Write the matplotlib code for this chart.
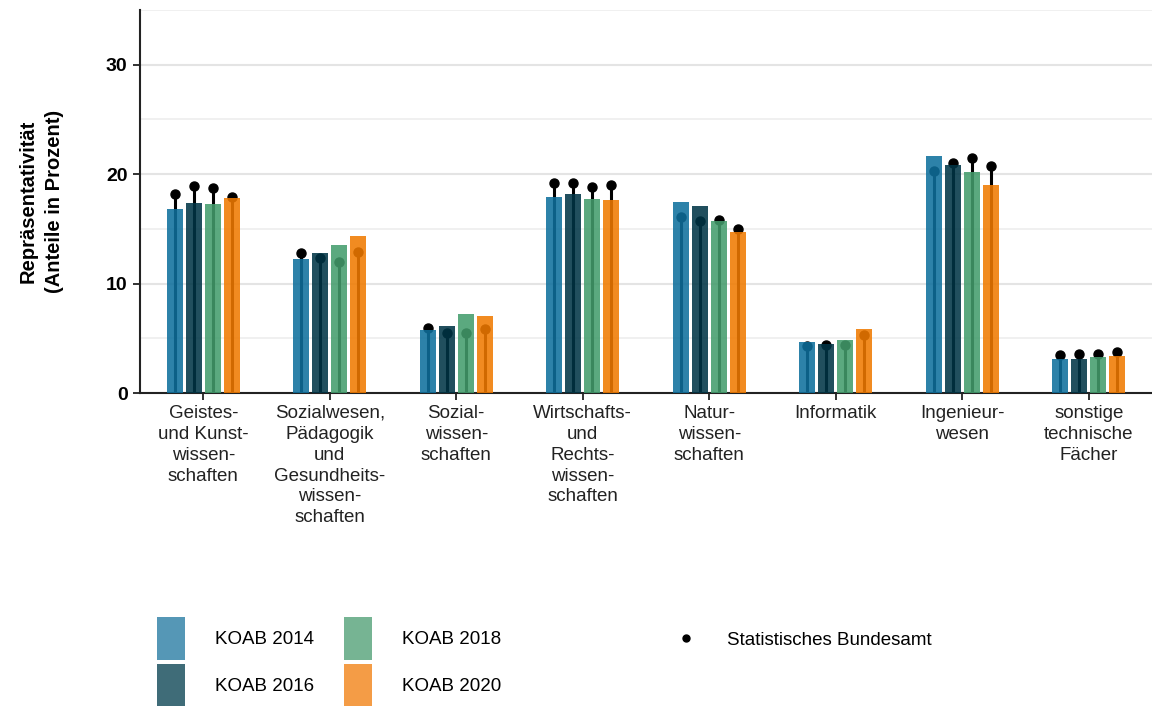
import numpy as np
import matplotlib
matplotlib.use('Agg')
import matplotlib.pyplot as plt
from matplotlib.patches import Patch
from matplotlib.lines import Line2D

plt.rcParams['font.family'] = ['Liberation Sans', 'DejaVu Sans']

categories = ['Geistes-\nund Kunst-\nwissen-\nschaften',
              'Sozialwesen,\nPädagogik\nund\nGesundheits-\nwissen-\nschaften',
              'Sozial-\nwissen-\nschaften',
              'Wirtschafts-\nund\nRechts-\nwissen-\nschaften',
              'Natur-\nwissen-\nschaften',
              'Informatik',
              'Ingenieur-\nwesen',
              'sonstige\ntechnische\nFächer']
series = ['KOAB 2014', 'KOAB 2016', 'KOAB 2018', 'KOAB 2020']

# KOAB shares per subject group
koab_2014 = [16.8, 12.2, 5.8, 17.9, 17.5, 4.7, 21.7, 3.1]
koab_2016 = [17.35, 12.75, 6.1, 18.15, 17.05, 4.45, 20.8, 3.1]
koab_2018 = [17.3, 13.5, 7.2, 17.7, 15.7, 4.8, 20.2, 3.3]
koab_2020 = [17.8, 14.35, 7.05, 17.6, 14.7, 5.85, 19.05, 3.4]

# Statistisches Bundesamt reference values
destatis_2014 = [18.2, 12.8, 5.9, 19.2, 16.1, 4.25, 20.25, 3.5]
destatis_2016 = [18.9, 12.3, 5.45, 19.2, 15.7, 4.35, 21.0, 3.55]
destatis_2018 = [18.75, 11.95, 5.45, 18.8, 15.85, 4.4, 21.5, 3.6]
destatis_2020 = [17.9, 12.9, 5.85, 19.05, 15.0, 5.3, 20.7, 3.75]

koab = [koab_2014, koab_2016, koab_2018, koab_2020]
destatis = [destatis_2014, destatis_2016, destatis_2018, destatis_2020]

bar_colors = ['#0e6f9c', '#003546', '#439c6c', '#f07a00']
legend_colors = ['#5597b6', '#3f6c78', '#76b493', '#f49c46']

fig = plt.figure(figsize=(11.52, 7.06), dpi=100)
ax = fig.add_axes([140/1152, 1 - 393/706, 1 - 140/1152, (393 - 10)/706])

x = np.arange(1, len(categories) + 1)
step = 0.15
width = 0.127
for i in range(4):
    xs = x + (i - 1.5) * step
    ax.bar(xs, koab[i], width=width, color=bar_colors[i], alpha=0.87, zorder=3)
    ax.vlines(xs, 0, destatis[i], color='black', lw=2.2, zorder=2)
    ax.plot(xs, destatis[i], 'o', color='black', ms=6.5, zorder=2)

ax.set_xlim(0.5, 8.5)
ax.set_ylim(0, 35)
ax.set_yticks([0, 10, 20, 30])
ax.set_yticks([5, 15, 25, 35], minor=True)
ax.set_xticks(x)
ax.set_xticklabels(categories, fontsize=13.5, linespacing=1.3, color='#222222')
ax.tick_params(axis='y', which='minor', length=0)
ax.tick_params(axis='both', which='major', length=5, width=1.3, color='#222222')
ax.tick_params(axis='y', pad=4)
for lab in ax.get_yticklabels():
    lab.set_fontweight('bold')
    lab.set_fontsize(14)
ax.grid(axis='y', which='major', color='#e4e4e4', lw=1.5, zorder=0)
ax.grid(axis='y', which='minor', color='#eeeeee', lw=1.2, zorder=0)
ax.set_axisbelow(True)
for s in ['top', 'right']:
    ax.spines[s].set_visible(False)
for s in ['left', 'bottom']:
    ax.spines[s].set_linewidth(1.5)
    ax.spines[s].set_color('#222222')
ax.set_ylabel('Repräsentativität\n(Anteile in Prozent)', fontsize=14.5,
              fontweight='bold', labelpad=30, linespacing=1.5)

handles = [Patch(facecolor=c, edgecolor='none') for c in legend_colors]
leg1 = fig.legend(handles, series, ncol=2, loc='upper left',
                  bbox_to_anchor=(140/1152, 1 - 600/706), frameon=False,
                  fontsize=13.5, handlelength=1.5, handleheight=3.15,
                  handletextpad=1.6, labelspacing=0.21, columnspacing=1.6)
dot = Line2D([], [], marker='o', color='black', ls='none', ms=5)
leg2 = fig.legend([dot], ['Statistisches Bundesamt'], loc='upper left',
                  bbox_to_anchor=(650/1152, 1 - 615/706), frameon=False,
                  fontsize=13.5, handletextpad=1.2)

fig.savefig('out.png', dpi=100)
